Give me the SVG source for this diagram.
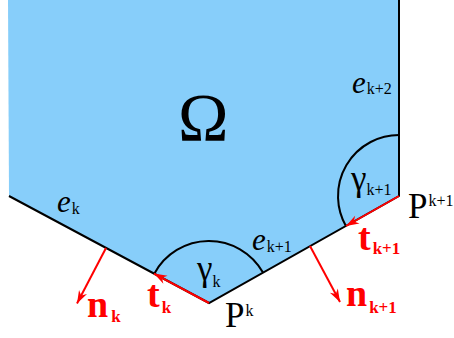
<svg xmlns="http://www.w3.org/2000/svg" width="454" height="338" viewBox="0 0 454 338" font-family="'Liberation Serif', Times, serif">
<style>
.it{font-style:italic}
.big{font-size:31px}
.sub{font-size:16px}
.gr{font-size:35px}
.red{fill:#ff0000;font-weight:bold}
.red .gr{font-size:38px}
.red .sub{font-size:17px}
.edge{stroke:#000;stroke-width:2;fill:none}
.vec{stroke:#ff0000;stroke-width:2;fill:none}
</style>
<defs>
<marker id="ah" markerUnits="userSpaceOnUse" markerWidth="14" markerHeight="10" refX="0" refY="0" viewBox="-13 -5 14 10" orient="auto" overflow="visible">
<path d="M0,0 L-13,-4.5 L-9,0 L-13,4.5 z" fill="#ff0000"/>
</marker>
</defs>
<g id="domain">
<polygon points="8,0 399,0 399,196 209,303 9,196" fill="#87cefa"/>
<text x="178" y="140" font-size="68">Ω</text>
</g>
<g id="connectors">
<polyline class="edge" points="9,196 209,303 399,196 399,0"/>
<path class="edge" d="M154.3,273.7 A62,62 0 0 1 263,272.6"/>
<path class="edge" d="M399,135 A61,61 0 0 0 345.9,226"/>
<line class="vec" x1="209" y1="303" x2="154" y2="273.6" marker-end="url(#ah)"/>
<line class="vec" x1="399" y1="196" x2="346" y2="226" marker-end="url(#ah)"/>
<line class="vec" x1="106" y1="248" x2="77" y2="303.5" marker-end="url(#ah)"/>
<line class="vec" x1="310" y1="246" x2="340" y2="302" marker-end="url(#ah)"/>
</g>
<g id="label-ek"><text x="57" y="212"><tspan class="it big">e</tspan><tspan class="sub" dx="1" y="214">k</tspan></text></g>
<g id="label-ek1"><text x="252" y="250"><tspan class="it big">e</tspan><tspan class="sub" dx="1" y="252">k+1</tspan></text></g>
<g id="label-ek2"><text x="352" y="93"><tspan class="it big">e</tspan><tspan class="sub" dx="1" y="94">k+2</tspan></text></g>
<g id="label-gk"><text x="197" y="280"><tspan class="gr">γ</tspan><tspan class="sub" y="287">k</tspan></text></g>
<g id="label-gk1"><text x="351" y="190"><tspan class="gr">γ</tspan><tspan class="sub" y="195">k+1</tspan></text></g>
<g id="label-Pk"><text x="225" y="327"><tspan class="gr">P</tspan><tspan class="sub" dx="1" y="316">k</tspan></text></g>
<g id="label-Pk1"><text x="408" y="218"><tspan class="gr">P</tspan><tspan class="sub" dx="1" y="206" font-size="15">k+1</tspan></text></g>
<g id="label-tk"><text class="red" x="147" y="307"><tspan class="gr">t</tspan><tspan class="sub" dx="2" y="313">k</tspan></text></g>
<g id="label-nk"><text class="red" x="87" y="317"><tspan class="gr">n</tspan><tspan class="sub" dx="3" y="322">k</tspan></text></g>
<g id="label-tk1"><text class="red" x="358" y="250"><tspan class="gr">t</tspan><tspan class="sub" dx="2" y="254">k+1</tspan></text></g>
<g id="label-nk1"><text class="red" x="346" y="306"><tspan class="gr">n</tspan><tspan class="sub" dx="2" y="313">k+1</tspan></text></g>
</svg>
